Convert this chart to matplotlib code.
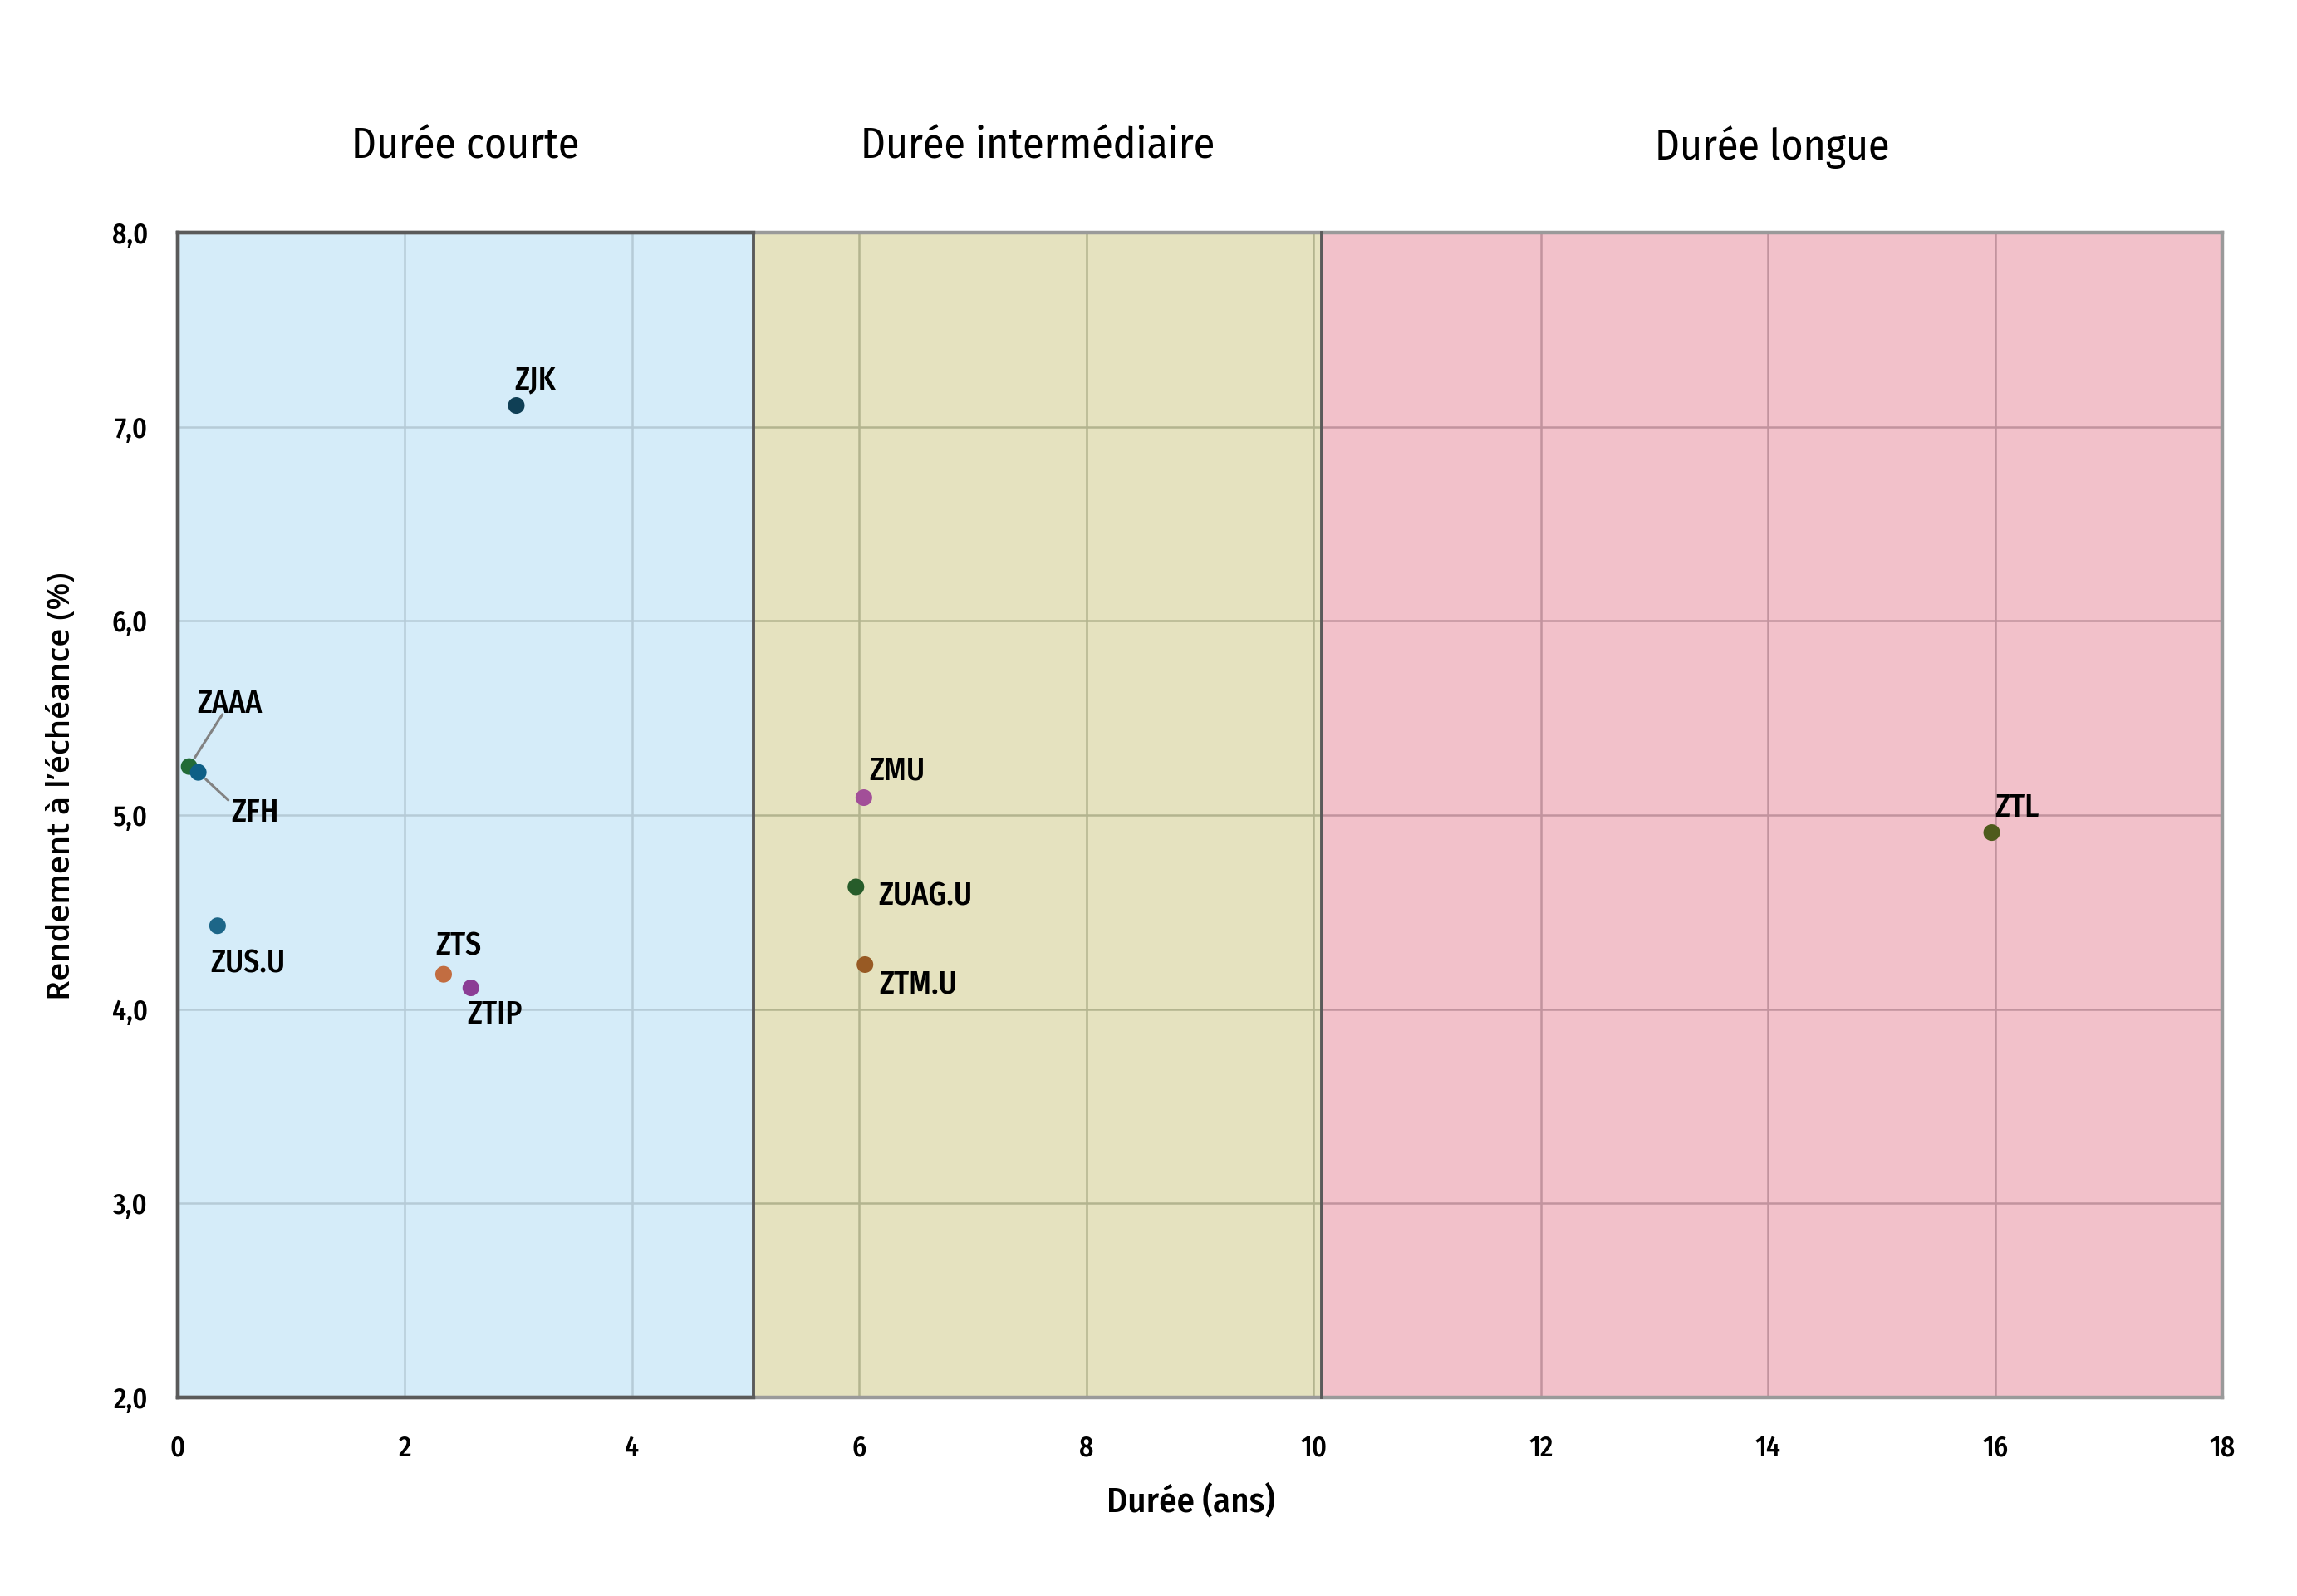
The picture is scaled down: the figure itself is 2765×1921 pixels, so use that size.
import matplotlib
matplotlib.use("Agg")
import matplotlib.pyplot as plt
from matplotlib import font_manager as fm

# police étroite, selon ce qui est installé
polices = fm.fontManager.ttflist
dispo = {f.name for f in polices}
etroites = ["Fira Sans Condensed", "Encode Sans Condensed", "Roboto Condensed",
            "Asap Condensed", "PT Sans Narrow", "Ubuntu Condensed",
            "Archivo Narrow", "IBM Plex Sans Condensed", "Liberation Sans Narrow"]
police = [p for p in etroites if p in dispo][:1] + ["DejaVu Sans"]
# pour le titre de l'axe y : police large avec un vrai demi-gras
larges = ["Source Sans Pro", "Source Sans 3", "Open Sans", "Noto Sans", "Lato"]
avec_600 = {f.name for f in polices if f.weight == 600 and f.style == 'normal'}
police_y = ([p for p in larges if p in avec_600] + [p for p in larges if p in dispo])[:1] + ["DejaVu Sans"]
plt.rcParams['font.family'] = police
poids = 'medium'

# Données : durée (ans) et rendement à l'échéance (%)
tickers = ["ZJK", "ZAAA", "ZFH", "ZUS.U", "ZTS", "ZTIP", "ZMU", "ZUAG.U", "ZTM.U", "ZTL"]
duree = [2.98, 0.10, 0.18, 0.35, 2.34, 2.58, 6.04, 5.97, 6.05, 15.97]
rendement = [7.11, 5.25, 5.22, 4.43, 4.18, 4.11, 5.09, 4.63, 4.23, 4.91]
couleurs = ["#0f3f55", "#226b37", "#0e5f86", "#1d6688", "#c26d41", "#8b3d95",
            "#a24f98", "#275c2a", "#985a24", "#4e5b1c"]

# décalage des étiquettes (points, ligne de base)
decalages = [(-0.6, 7.0), (3.4, 23.2), (14.2, -21.3), (-3.2, -20.3), (-3.6, 8.4),
             (-1.6, -15.6), (2.3, 7.6), (9.9, -7.8), (6.0, -12.6), (1.3, 7.0)]
# traits de rappel : bout du trait (points)
traits = {"ZAAA": (14.4, 22.6), "ZFH": (13.0, -12.0)}

zones = ["Durée courte", "Durée intermédiaire", "Durée longue"]
bornes = [0, 5.07, 10.07, 18]
fonds = ["#d5ecf9", "#e5e2bf", "#f2c1ca"]
grilles = ["#b6cbd7", "#b3b48f", "#c2939e"]

x_ticks = [0, 2, 4, 6, 8, 10, 12, 14, 16, 18]
y_ticks = [2, 3, 4, 5, 6, 7, 8]

fig = plt.figure(figsize=(13.825, 9.605), dpi=200)
ax = fig.add_axes([0.0774, 0.1244, 0.8901, 0.7298])
ax.set_xlim(0, 18)
ax.set_ylim(2, 8)
rend = fig.canvas.get_renderer()


def taille(texte, cible_px, **kw):
    # taille de police pour qu'un texte ait la largeur voulue
    t = fig.text(0, 0, texte, fontsize=10, **kw)
    w = t.get_window_extent(rend).width
    t.remove()
    return 10 * cible_px / w


fs_titre = taille("Durée courte", 275, fontweight='normal')
fs_etiq = taille("ZUAG.U", 113, fontweight=poids)
fs_tick = taille("10", 32, fontweight=poids)
fs_xlab = taille("Durée (ans)", 203, fontweight=poids)
fs_ylab = taille("Rendement à l’échéance (%)", 514, family=police_y, fontweight='semibold')

# zones colorées + grille par zone
for i in range(3):
    x0, x1 = bornes[i], bornes[i + 1]
    ax.axvspan(x0, x1, color=fonds[i], zorder=0, lw=0)
    for xt in x_ticks:
        if x0 < xt < x1:
            ax.vlines(xt, 2, 8, color=grilles[i], lw=0.9, zorder=1)
    ax.hlines(y_ticks[1:-1], x0, x1, color=grilles[i], lw=0.9, zorder=1)
    xc = ax.transData.transform(((x0 + x1) / 2, 0))[0] / fig.bbox.width
    fig.text(xc, 0.908, zones[i], ha='center', va='center', fontsize=fs_titre, fontweight='normal')

# bordures
for s in ax.spines.values():
    s.set_color("#9a9a9a")
    s.set_linewidth(1.6)
fonce = "#5a5a5a"
ax.plot([0, 0], [2, 8], color=fonce, lw=1.6, zorder=3, clip_on=False)
ax.plot([0, bornes[1]], [8, 8], color=fonce, lw=1.6, zorder=3, clip_on=False)
ax.plot([0, bornes[1]], [2, 2], color=fonce, lw=1.6, zorder=3, clip_on=False)
for b in bornes[1:3]:
    ax.plot([b, b], [2, 8], color=fonce, lw=1.4, zorder=3, clip_on=False)

ax.scatter(duree, rendement, s=52, c=couleurs, zorder=4, linewidths=0)

for t, x, y, d in zip(tickers, duree, rendement, decalages):
    if t in traits:
        ax.annotate('', (x, y), xytext=traits[t], textcoords='offset points',
                    arrowprops=dict(arrowstyle='-', color='#828282', lw=1.1,
                                    shrinkA=0, shrinkB=4.4), zorder=3)
    ax.annotate(t, (x, y), xytext=d, textcoords='offset points', fontsize=fs_etiq,
                fontweight=poids, ha='left', va='baseline', zorder=5)

ax.set_xticks(x_ticks)
ax.set_xticklabels([str(v) for v in x_ticks], fontsize=fs_tick, fontweight=poids)
ax.set_yticks(y_ticks)
ax.set_yticklabels([f"{v:.1f}".replace(".", ",") for v in y_ticks], fontsize=fs_tick,
                   fontweight=poids)
ax.tick_params(length=0, pad=13)
ax.tick_params(axis='x', pad=16)

fig.text(0.5185, 0.059, "Durée (ans)", ha='center', va='center', fontsize=fs_xlab,
         fontweight=poids)
fig.text(0.0268, 0.5075, "Rendement à l’échéance (%)", rotation=90, ha='center',
         va='center', fontsize=fs_ylab, family=police_y, fontweight='semibold')

fig.savefig("out.png", dpi=200)
